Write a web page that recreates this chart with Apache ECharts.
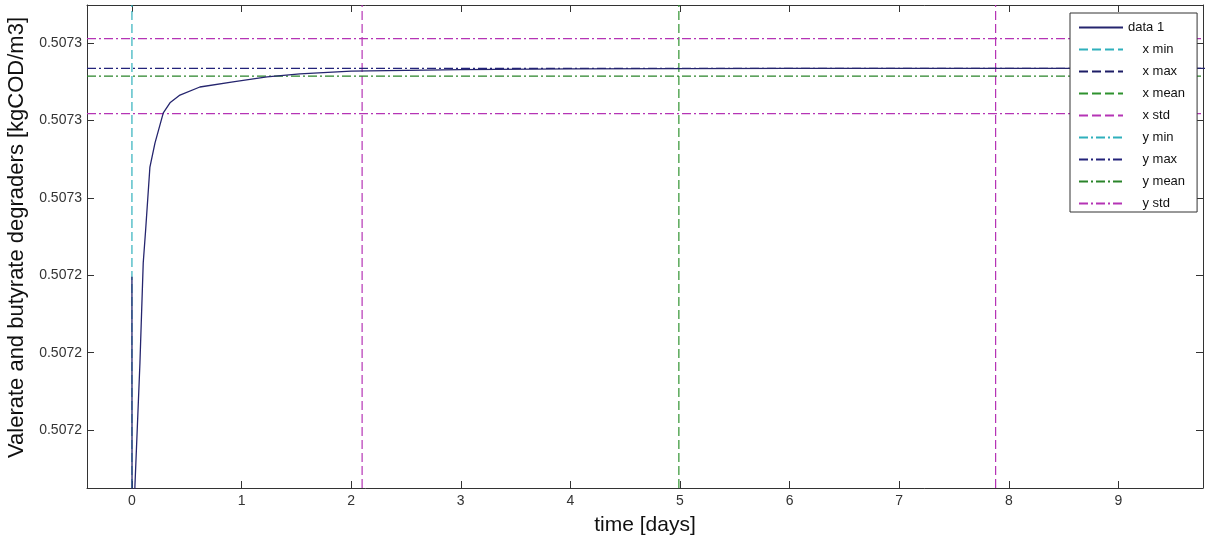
<!DOCTYPE html>
<html lang="en">
  <head>
    <meta charset="UTF-8" />
    <title>Valerate and butyrate degraders</title>
    <style>
      html, body { margin: 0; padding: 0; background: #fff; }
    </style>
  </head>
  <body>
    <div id="main" style="width: 1213px; height: 537px"></div>

    <script src="https://cdn.jsdelivr.net/npm/echarts@6/dist/echarts.min.js"></script>
    <script>
      // time [days] and value [kgCOD/m3] of the simulated curve
      const times = [0, 0.003, 0.027, 0.073, 0.103, 0.125, 0.164, 0.21, 0.286, 0.347, 0.438, 0.62, 0.922, 1.232, 1.533, 2.0, 3.0, 4.0, 6.0, 8.0, 10.0]
      const values = [0.5072396, 0.50705, 0.5071853, 0.5072173, 0.5072432, 0.5072517, 0.507268, 0.5072742, 0.507282, 0.5072846, 0.5072866, 0.5072887, 0.50729, 0.5072913, 0.5072921, 0.5072928, 0.5072932, 0.5072934, 0.5072935, 0.5072935, 0.5072935]

      // statistics shown as reference lines
      const xStats = { min: 0, max: 10, mean: 4.99, std: 2.89 }
      const yStats = { min: 0.50705, max: 0.5072935, mean: 0.5072915, std: 0.0000097 }

      // axis ranges and ticks
      const xRange = [-0.41, 9.772]
      const yRange = [0.507185, 0.5073099]
      const xTicks = [0, 1, 2, 3, 4, 5, 6, 7, 8, 9]
      const yTicks = [0.5072, 0.50722, 0.50724, 0.50726, 0.50728, 0.5073]

      const font = "'Liberation Sans', Arial, sans-serif"
      const dash = [9, 4]
      const dashDot = [9, 3, 2, 3]

      const myChart = echarts.init(document.getElementById('main'))

      // a statistic drawn as a full-width / full-height line
      function statLine (name, color, type, points) {
        return {
          name: name,
          type: 'line',
          data: points,
          symbol: 'none',
          silent: true,
          itemStyle: { color: color },
          lineStyle: { color: color, width: 1.2, type: type }
        }
      }
      const vLine = (name, color, x) => statLine(name, color, dash, [[x, yRange[0]], [x, yRange[1]]])
      const hLine = (name, color, y) => statLine(name, color, dashDot, [[xRange[0], y], [xRange[1], y]])

      const tickStyle = {
        inside: true,
        length: 7,
        lineStyle: { color: '#333' }
      }
      const axisLine = { show: true, onZero: false, lineStyle: { color: '#333' } }

      const option = {
        backgroundColor: '#fff',
        animation: false,
        grid: { left: 87, right: 10, top: 5, bottom: 49, outerBoundsMode: 'none' },
        xAxis: [
          {
            type: 'value',
            min: xRange[0],
            max: xRange[1],
            name: 'time [days]',
            nameLocation: 'middle',
            nameGap: 27,
            nameTextStyle: { fontSize: 21, fontFamily: font, color: '#111' },
            axisLine: axisLine,
            axisTick: Object.assign({ customValues: xTicks }, tickStyle),
            axisLabel: { customValues: xTicks, fontSize: 14, fontFamily: font, color: '#333', margin: 6 },
            splitLine: { show: false }
          },
          {
            type: 'value',
            position: 'top',
            min: xRange[0],
            max: xRange[1],
            axisLine: axisLine,
            axisTick: Object.assign({ customValues: xTicks }, tickStyle),
            axisLabel: { show: false },
            splitLine: { show: false }
          }
        ],
        yAxis: [
          {
            type: 'value',
            min: yRange[0],
            max: yRange[1],
            name: 'Valerate and butyrate degraders [kgCOD/m3]',
            nameLocation: 'middle',
            nameGap: 53,
            nameTextStyle: { fontSize: 22, fontFamily: font, color: '#111', padding: [0, 0, 0, 18] },
            axisLine: axisLine,
            axisTick: Object.assign({ customValues: yTicks }, tickStyle),
            axisLabel: {
              customValues: yTicks,
              fontSize: 14,
              fontFamily: font,
              color: '#333',
              margin: 5,
              formatter: v => v.toFixed(4)
            },
            splitLine: { show: false }
          },
          {
            type: 'value',
            position: 'right',
            min: yRange[0],
            max: yRange[1],
            axisLine: axisLine,
            axisTick: Object.assign({ customValues: yTicks }, tickStyle),
            axisLabel: { show: false },
            splitLine: { show: false }
          }
        ],
        legend: {
          orient: 'vertical',
          left: 1070,
          top: 13,
          padding: [8, 12, 2, 8],
          itemWidth: 44,
          itemHeight: 12,
          itemGap: 9,
          backgroundColor: '#fff',
          borderColor: '#333',
          borderWidth: 1,
          borderRadius: 0,
          selectedMode: false,
          itemStyle: { opacity: 0 },
          formatter: name => (name === 'data 1' ? name : '    ' + name),
          textStyle: { fontSize: 13, fontFamily: font, color: '#111' },
          data: ['data 1', 'x min', 'x max', 'x mean', 'x std', 'y min', 'y max', 'y mean', 'y std']
        },
        series: [
          vLine('x min', '#2fb0bc', xStats.min),
          vLine('x max', '#1d1d66', xStats.max),
          vLine('x mean', '#2e922e', xStats.mean),
          vLine('x std', '#b534b5', xStats.mean - xStats.std),
          vLine('x std', '#b534b5', xStats.mean + xStats.std),
          hLine('y min', '#2fb0bc', yStats.min),
          hLine('y max', '#23237a', yStats.max),
          hLine('y mean', '#2a842a', yStats.mean),
          hLine('y std', '#b534b5', yStats.mean - yStats.std),
          hLine('y std', '#b534b5', yStats.mean + yStats.std),
          {
            name: 'data 1',
            type: 'line',
            data: times.map((t, i) => [t, values[i]]),
            symbol: 'none',
            itemStyle: { color: '#25256e' },
            lineStyle: { color: '#25256e', width: 1.3 }
          }
        ]
      }

      myChart.setOption(option)
    </script>
  </body>
</html>
